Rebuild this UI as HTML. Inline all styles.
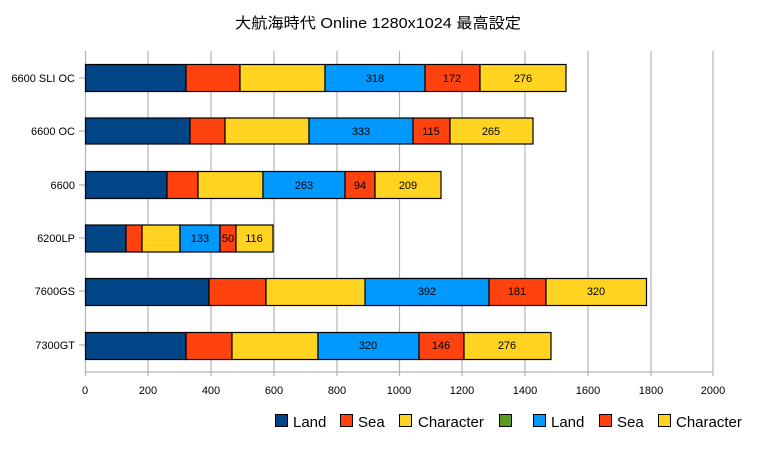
<!DOCTYPE html>
<html><head><meta charset="utf-8"><style>body{margin:0;background:#fff}svg{display:block}</style></head><body>
<svg width="757" height="455" xmlns="http://www.w3.org/2000/svg" font-family="Liberation Sans, sans-serif">
<text x="378" y="28" text-anchor="middle" font-size="15" font-family="Liberation Sans, Noto Sans CJK JP, sans-serif" textLength="286" lengthAdjust="spacingAndGlyphs">大航海時代 Online 1280x1024  最高設定</text>
<g stroke="#b3b3b3" stroke-width="1.2">
<line x1="85.5" y1="51" x2="85.5" y2="376"/><line x1="148" y1="51" x2="148" y2="376"/><line x1="211" y1="51" x2="211" y2="376"/><line x1="274" y1="51" x2="274" y2="376"/><line x1="337" y1="51" x2="337" y2="376"/><line x1="399.5" y1="51" x2="399.5" y2="376"/><line x1="462" y1="51" x2="462" y2="376"/><line x1="525" y1="51" x2="525" y2="376"/><line x1="588" y1="51" x2="588" y2="376"/><line x1="651" y1="51" x2="651" y2="376"/><line x1="713" y1="51" x2="713" y2="376"/>
<line x1="85" y1="372" x2="713" y2="372"/>
<line x1="79" y1="78" x2="85" y2="78"/><line x1="79" y1="131" x2="85" y2="131"/><line x1="79" y1="185" x2="85" y2="185"/><line x1="79" y1="238" x2="85" y2="238"/><line x1="79" y1="291" x2="85" y2="291"/><line x1="79" y1="345" x2="85" y2="345"/>
</g>
<g font-size="11" text-anchor="middle">
<text x="85" y="394">0</text><text x="148" y="394">200</text><text x="211" y="394">400</text><text x="274" y="394">600</text><text x="337" y="394">800</text><text x="399" y="394">1000</text><text x="462" y="394">1200</text><text x="525" y="394">1400</text><text x="588" y="394">1600</text><text x="651" y="394">1800</text><text x="713" y="394">2000</text>
</g>
<g font-size="11" text-anchor="end">
<text x="75" y="82">6600 SLI OC</text><text x="75" y="135">6600 OC</text><text x="75" y="189">6600</text><text x="75" y="242">6200LP</text><text x="75" y="295">7600GS</text><text x="75" y="349">7300GT</text>
</g>
<g stroke="#000" stroke-width="1.2">
<!-- R1 -->
<rect x="85.5" y="64.5" width="100.5" height="27" fill="#004586"/><rect x="186" y="64.5" width="54" height="27" fill="#ff420e"/><rect x="240" y="64.5" width="85" height="27" fill="#ffd320"/><rect x="325" y="64.5" width="100" height="27" fill="#0099ff"/><rect x="425" y="64.5" width="55" height="27" fill="#ff420e"/><rect x="480" y="64.5" width="86" height="27" fill="#ffd320"/>
<!-- R2 -->
<rect x="85.5" y="118" width="104.5" height="26" fill="#004586"/><rect x="190" y="118" width="35" height="26" fill="#ff420e"/><rect x="225" y="118" width="84" height="26" fill="#ffd320"/><rect x="309" y="118" width="104" height="26" fill="#0099ff"/><rect x="413" y="118" width="37" height="26" fill="#ff420e"/><rect x="450" y="118" width="83" height="26" fill="#ffd320"/>
<!-- R3 -->
<rect x="85.5" y="171.5" width="81.5" height="27" fill="#004586"/><rect x="167" y="171.5" width="31" height="27" fill="#ff420e"/><rect x="198" y="171.5" width="65" height="27" fill="#ffd320"/><rect x="263" y="171.5" width="82" height="27" fill="#0099ff"/><rect x="345" y="171.5" width="30" height="27" fill="#ff420e"/><rect x="375" y="171.5" width="66" height="27" fill="#ffd320"/>
<!-- R4 -->
<rect x="85.5" y="225" width="40.5" height="27" fill="#004586"/><rect x="126" y="225" width="16" height="27" fill="#ff420e"/><rect x="142" y="225" width="38" height="27" fill="#ffd320"/><rect x="180" y="225" width="40" height="27" fill="#0099ff"/><rect x="220" y="225" width="16" height="27" fill="#ff420e"/><rect x="236" y="225" width="37" height="27" fill="#ffd320"/>
<!-- R5 -->
<rect x="85.5" y="278.5" width="123.5" height="27" fill="#004586"/><rect x="209" y="278.5" width="57" height="27" fill="#ff420e"/><rect x="266" y="278.5" width="223" height="27" fill="#ffd320"/><rect x="365" y="278.5" width="124" height="27" fill="#0099ff"/><rect x="489" y="278.5" width="57" height="27" fill="#ff420e"/><rect x="546" y="278.5" width="100.5" height="27" fill="#ffd320"/>
<!-- R6 -->
<rect x="85.5" y="332.5" width="100.5" height="27" fill="#004586"/><rect x="186" y="332.5" width="46" height="27" fill="#ff420e"/><rect x="232" y="332.5" width="86" height="27" fill="#ffd320"/><rect x="318" y="332.5" width="101" height="27" fill="#0099ff"/><rect x="419" y="332.5" width="45" height="27" fill="#ff420e"/><rect x="464" y="332.5" width="87" height="27" fill="#ffd320"/>
</g>
<g font-size="11" text-anchor="middle">
<text x="375" y="82">318</text><text x="452" y="82">172</text><text x="523" y="82">276</text>
<text x="361" y="135">333</text><text x="431" y="135">115</text><text x="491" y="135">265</text>
<text x="304" y="189">263</text><text x="360" y="189">94</text><text x="408" y="189">209</text>
<text x="200" y="242">133</text><text x="228" y="242">50</text><text x="254" y="242">116</text>
<text x="427" y="295">392</text><text x="517" y="295">181</text><text x="596" y="295">320</text>
<text x="368" y="349">320</text><text x="441" y="349">146</text><text x="507" y="349">276</text>
</g>
<g stroke="#000" stroke-width="1">
<rect x="275.5" y="414.5" width="12" height="12" fill="#004586"/><rect x="340.5" y="414.5" width="12" height="12" fill="#ff420e"/><rect x="399.5" y="414.5" width="12" height="12" fill="#ffd320"/><rect x="499.5" y="414.5" width="12" height="12" fill="#579d1c"/><rect x="533.5" y="414.5" width="12" height="12" fill="#0099ff"/><rect x="599.5" y="414.5" width="12" height="12" fill="#ff420e"/><rect x="658.5" y="414.5" width="12" height="12" fill="#ffd320"/>
</g>
<g font-size="15">
<text x="293" y="427">Land</text><text x="358" y="427">Sea</text><text x="418" y="427">Character</text><text x="551" y="427">Land</text><text x="617" y="427">Sea</text><text x="676" y="427">Character</text>
</g>
</svg>
</body></html>
